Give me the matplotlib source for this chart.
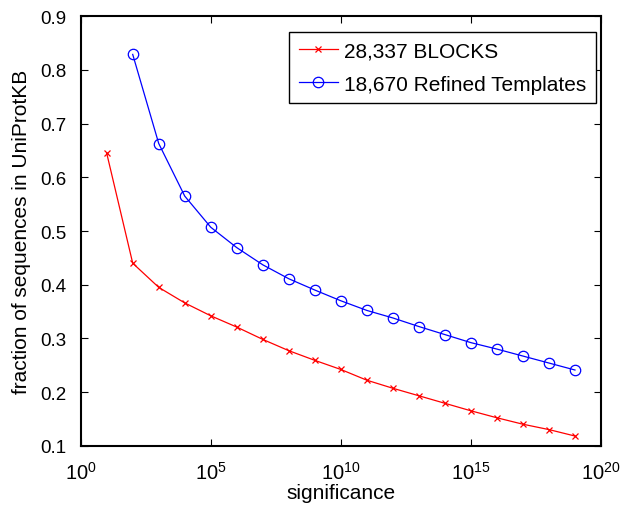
import numpy as np
import matplotlib
matplotlib.use("Agg")
import matplotlib.pyplot as plt

plt.rcParams['font.family'] = ['Liberation Sans', 'DejaVu Sans']
plt.rcParams['mathtext.fontset'] = 'custom'
plt.rcParams['mathtext.rm'] = 'Liberation Sans'
plt.rcParams['mathtext.it'] = 'Liberation Sans'
plt.rcParams['mathtext.bf'] = 'Liberation Sans'

# significance exponents (10^k)
blocks_exp = list(range(1, 20))
blocks_frac = [0.645, 0.44, 0.395, 0.366, 0.342, 0.321, 0.298, 0.277, 0.259, 0.242,
               0.222, 0.207, 0.193, 0.179, 0.165, 0.152, 0.140, 0.130, 0.118]

templ_exp = list(range(2, 20))
templ_frac = [0.829, 0.663, 0.565, 0.507, 0.469, 0.437, 0.411, 0.390, 0.370, 0.352,
              0.338, 0.322, 0.307, 0.292, 0.280, 0.267, 0.254, 0.241]

fig = plt.figure(figsize=(6.23, 5.06), dpi=100)
ax = fig.add_axes([0.1295, 0.1172, 0.8352, 0.8486])

ax.plot(10.0 ** np.array(blocks_exp), blocks_frac, color='#ff0000', marker='x',
        markersize=5, linewidth=0.9, markeredgewidth=0.9, label='28,337 BLOCKS')
ax.plot(10.0 ** np.array(templ_exp), templ_frac, color='#0000ff', marker='o',
        markersize=7.5, linewidth=0.9, markeredgewidth=0.9, markerfacecolor='none',
        label='18,670 Refined Templates')

ax.set_xscale('log')
ax.set_xlim(1, 1e20)
ax.set_ylim(0.1, 0.9)
ax.set_xticks([1e0, 1e5, 1e10, 1e15, 1e20])
ax.set_xticklabels([r'$10^{0}$', r'$10^{5}$', r'$10^{10}$', r'$10^{15}$', r'$10^{20}$'])
ax.xaxis.set_minor_locator(matplotlib.ticker.NullLocator())
ax.set_yticks(np.arange(0.1, 0.91, 0.1))
ax.set_yticklabels(['%.1f' % v for v in np.arange(0.1, 0.91, 0.1)])

ax.tick_params(direction='in', top=True, right=True, length=5, width=0.8)
ax.tick_params(axis='x', labelsize=14.5, pad=11)
ax.tick_params(axis='y', labelsize=13.5, pad=10)
for s in ax.spines.values():
    s.set_linewidth(1.5)

ax.set_xlabel('significance', fontsize=15, labelpad=0)
ax.set_ylabel('fraction of sequences in UniProtKB', fontsize=15, labelpad=7)

leg = ax.legend(loc='upper right', bbox_to_anchor=(0.9904, 0.9641), borderaxespad=0,
                fontsize=15, fancybox=False, framealpha=1, edgecolor='black',
                handlelength=1.9, handletextpad=0.3, borderpad=0.45, labelspacing=0.7)
leg.get_frame().set_linewidth(1.0)

fig.savefig('out.png', dpi=100)
